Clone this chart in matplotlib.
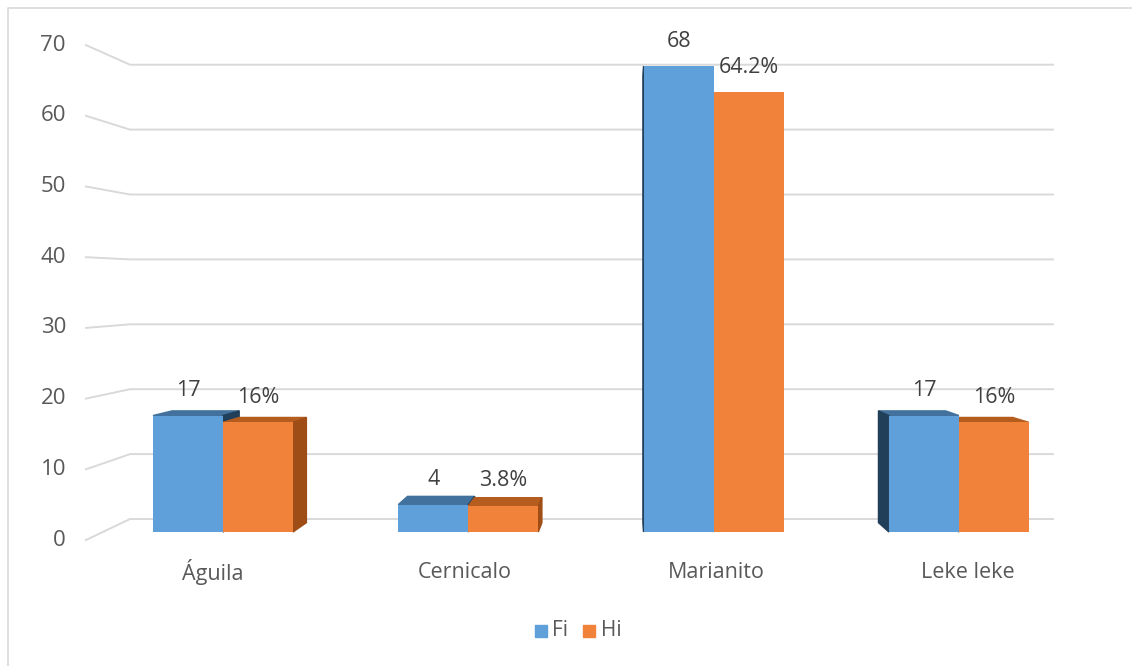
import matplotlib
matplotlib.use("Agg")
import matplotlib.pyplot as plt
from matplotlib.patches import Polygon, Rectangle
import numpy as np

# data
categories = ['Águila', 'Cernicalo', 'Marianito', 'Leke leke']
fi_values = [17, 4, 68, 17]
hi_values = [16, 3.8, 64.2, 16]
fi_labels = ['17', '4', '68', '17']
hi_labels = ['16%', '3.8%', '64.2%', '16%']
y_ticks = [0, 10, 20, 30, 40, 50, 60, 70]

plt.rcParams['font.family'] = ['Open Sans', 'DejaVu Sans']

W, H = 1132, 666
fig = plt.figure(figsize=(W / 100, H / 100), dpi=100)
ax = fig.add_axes([0, 0, 1, 1])

# pixel layout helpers (x: category index, y: value)
x0_px, dx_px = 223, 245.3
y0_px, dy_px = 532, 6.85


def px_x(p):
    return (p - x0_px) / dx_px


def px_y(p):
    return (y0_px - p) / dy_px


ax.set_xlim(px_x(0), px_x(W))
ax.set_ylim(px_y(H), px_y(0))
ax.axis('off')

# outer frame (left and top only)
ax.plot([px_x(8), px_x(8), px_x(W)], [px_y(H), px_y(8), px_y(8)],
        color='#d9d9d9', lw=1.2, clip_on=False)

# perspective gridlines
for v in y_ticks:
    yf = 540 - 7.07 * v
    yb = 519 - 6.49 * v
    ax.plot([px_x(86), px_x(130), px_x(1053)], [px_y(yf), px_y(yb), px_y(yb)],
            color='#d9d9d9', lw=1.4, zorder=1)
    ax.text(px_x(66), px_y(yf), str(v), ha='right', va='center',
            fontsize=16, color='#595959')

# bars with simple 3D faces
x = np.arange(len(categories))
w = 70 / dx_px
vp = np.array([px_x(628), px_y(299)])  # vanishing point
k = 0.04

blue, orange = '#5fa0db', '#f0823a'
blue_top, orange_top = '#41719c', '#b55d1f'
blue_side, orange_side = '#223f5a', '#9e4d16'


def back(p):
    p = np.array(p)
    return p + k * (vp - p)


def draw_bar(xl, val, top, side):
    xr = xl + w
    a, b = np.array([xl, val]), np.array([xr, val])
    # top face
    if vp[1] > val:
        ax.add_patch(Polygon([a, b, back(b), back(a)], color=top, zorder=2))
    # side face
    if vp[0] > xr:
        c = np.array([xr, 0])
        ax.add_patch(Polygon([b, c, back(c), back(b)], color=side, zorder=2))
    elif vp[0] < xl:
        c = np.array([xl, 0])
        ax.add_patch(Polygon([a, c, back(c), back(a)], color=side, zorder=2))


for i in range(len(categories)):
    draw_bar(x[i] - w, fi_values[i], blue_top, blue_side)
    draw_bar(x[i], hi_values[i], orange_top, orange_side)

ax.bar(x - w / 2, fi_values, w, color=blue, zorder=3, label='Fi')
ax.bar(x + w / 2, hi_values, w, color=orange, zorder=3, label='Hi')

# value labels
off = 25 / dy_px
for i in range(len(categories)):
    ax.text(x[i] - w / 2, fi_values[i] + off, fi_labels[i],
            ha='center', va='center', fontsize=15.5, color='#404040')
    ax.text(x[i] + w / 2, hi_values[i] + off, hi_labels[i],
            ha='center', va='center', fontsize=15.5, color='#404040')

# category labels
for i, c in enumerate(categories):
    ax.text(x[i] - 0.04 + 0.026 * i, px_y(572), c, ha='center', va='center',
            fontsize=15.5, color='#595959')

# legend
ax.add_patch(Rectangle((px_x(535), px_y(637)), 12 / dx_px, 12 / dy_px, color=blue))
ax.text(px_x(552), px_y(631), 'Fi', va='center', fontsize=15, color='#595959')
ax.add_patch(Rectangle((px_x(583), px_y(637)), 12 / dx_px, 12 / dy_px, color=orange))
ax.text(px_x(601), px_y(631), 'Hi', va='center', fontsize=15, color='#595959')

fig.savefig('out.png', dpi=100)
